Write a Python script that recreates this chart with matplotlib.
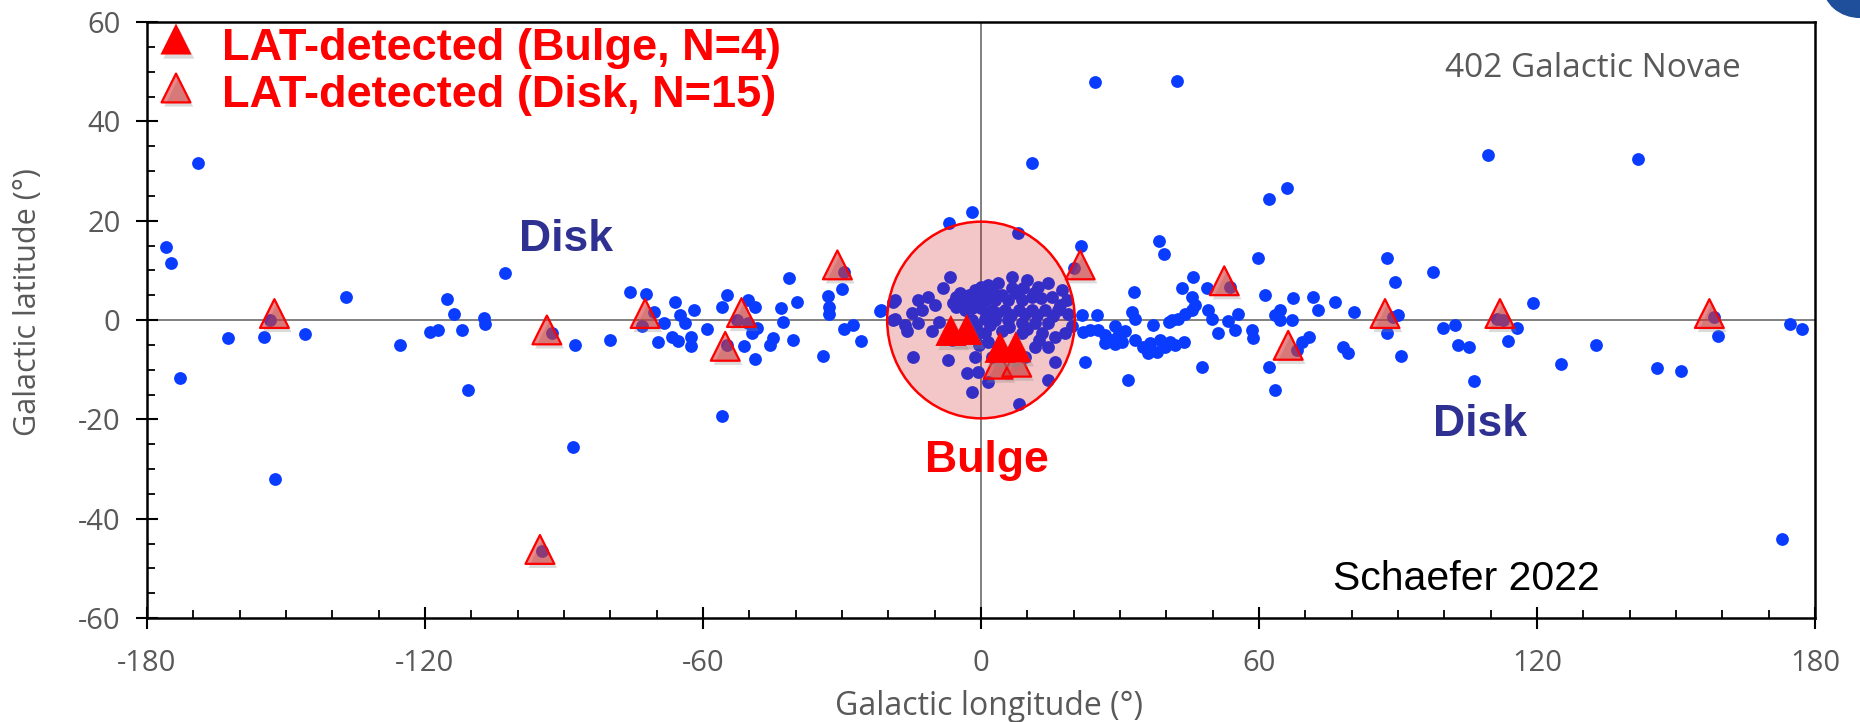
import matplotlib
matplotlib.use('Agg')
import matplotlib.pyplot as plt
import matplotlib.patheffects as pe
from matplotlib.patches import Ellipse
from matplotlib.ticker import MultipleLocator

plt.rcParams['axes.unicode_minus'] = False

# galactic novae (lon, lat in degrees)
nova_lon = [
    -175.8, -174.8, -172.8, -162.6, -154.8, -153.4, -146.0, -137.1, -125.5, -118.9, -117.3,
    -115.3, -113.8, -112.0, -107.3, -107.0, -110.7, -102.7, -92.6, -87.6, -80.0, -75.8,
    -72.3, -70.6, -73.2, -68.5, -69.8, -66.0, -64.9, -63.8, -62.0, -66.7, -65.3, -62.6,
    -62.6, -59.1, -55.9, -54.8, -55.9,
    -54.9, -50.2, -48.8, -52.7, -50.2, -48.4, -49.5, -51.2, -48.8, -45.5, -44.8, -43.2,
    -42.7, -41.4, -39.8, -40.5, -34.0, -29.6, -30.1, -33.0, -32.7, -32.7, -29.6, -27.6,
    -26.0, -21.8, -18.9, -18.9,
    # bulge
    -6.7, -8.1, -18.6, -13.5, -11.4, -12.8, -9.9, -5.3, -3.5, -1.3, 0.1, 1.6, 3.7, 6.6,
    6.6, 9.9, 12.4, 14.5, 17.4, 18.5, 15.3, 10.9, 8.8, 5.9, 3.0, 0.9, -1.3, -3.5, -5.3,
    2.3, 5.2, 8.1, 10.9, 13.8, 16.7, 18.8, 14.5, 11.7, 8.8, 5.9, 3.0, 0.9, -2.0, -16.4,
    -13.5, -10.6, -16.0, -18.6, -6.3, -1.3, 0.9, 4.5, 8.8, 13.1, 16.0, 18.1, 19.6, 11.7,
    14.5, -14.6, -7.1, -1.3, 2.3, 5.9, 9.5, 16.0, -3.1, -0.6, 1.6, 14.5, -2.0, 8.1,
    -4.5, -2.5, -0.5, 1.0, 2.5, 4.5, 7.5, 9.0, 11.5, 13.0, -6.0, -4.0, -2.0, 0.0, 1.5,
    3.5, 6.5, 9.5, 12.0, 15.5, 17.0, -1.0, 2.0, 6.0, 10.0, -0.5, 1.5, 12.5, -9.0, -15.0,
    -2.0, -7.0, 7.9, 21.6, 20.1, -21.6, 21.7, 22.1, 22.4,
    # positive longitudes
    38.4, 39.4, 33.0, 25.0, 25.3, 26.8, 26.8, 28.9, 29.6, 31.1, 30.4, 32.5, 33.2, 33.2,
    31.8, 37.2, 36.5, 36.1, 38.6, 39.7, 40.8, 37.9, 41.2, 42.6, 44.0, 45.5, 46.2, 45.5,
    43.3, 45.8, 43.9, 47.8, 48.7, 49.1, 49.8, 51.2, 53.7, 53.4, 54.8, 55.5, 58.4, 58.8,
    59.7, 61.3, 63.5, 64.5, 64.5, 67.1, 67.4, 68.1, 69.2, 70.8, 62.2, 63.5, 71.7, 72.8,
    76.4, 78.2, 79.3, 80.4, 87.6, 89.4, 89.0, 87.6, 90.1, 90.6,
    23.5, 28.0, 29.0, 35.0, 41.8, 40.5,
    97.5, 99.8, 102.3, 103.0, 105.4, 106.3, 111.3, 112.7, 115.6, 113.8, 119.1, 125.2,
    132.7, 145.8, 151.1, 158.1, 159.1, 174.5, 177.1,
    # high latitude
    -169.0, -152.4, -88.1, -94.8, 24.5, 42.2, 11.0, 109.4, 141.8, 66.0, 62.2, 172.8,
]
nova_lat = [
    14.6, 11.4, -11.7, -3.7, -3.5, 0.0, -2.8, 4.6, -5.0, -2.4, -2.0,
    4.2, 1.3, -2.1, 0.5, -0.9, -14.0, 9.5, -2.6, -5.0, -4.0, 5.7,
    5.2, 1.7, -1.3, -0.7, -4.4, 3.7, 1.0, -0.7, 2.0, -3.5, -4.2, -3.4,
    -5.2, -1.9, 2.6, 5.0, -19.3,
    -5.0, 4.0, 2.7, 0.0, -0.7, -1.7, -2.7, -5.2, -7.9, -5.0, -3.7, 2.4,
    -0.5, 8.5, 3.7, -4.0, -7.3, 9.7, 6.2, 4.8, 2.7, 1.3, -1.9, -1.0,
    -4.2, 1.9, 3.7, 0.0,
    8.7, 6.4, 4.0, 4.0, 4.7, 2.0, 3.0, 4.7, 4.0, 6.0, 6.7, 7.0, 7.4, 8.7,
    6.4, 8.1, 6.7, 7.4, 6.0, 4.0, 4.7, 4.7, 4.0, 4.0, 4.0, 4.0, 3.4, 2.0, 2.7,
    2.0, 2.0, 2.0, 2.0, 2.0, 2.0, 1.3, -0.7, -0.7, -0.7, 0.0, 0.0, 0.3, 0.0, -1.0,
    -0.7, -2.3, -2.3, 0.3, -4.0, -3.4, -2.7, -2.3, -2.7, -2.7, -3.4, -2.7, -1.3, -5.4,
    -5.4, -7.4, -8.1, -7.4, -7.4, -6.7, -7.4, -8.4, -10.7, -10.4, -12.4, -12.1, -14.4, -16.9,
    5.5, 5.0, 5.2, 5.8, 5.5, 5.0, 5.5, 6.5, 5.5, 4.5, 3.5, 3.0, 2.5, 2.5, 1.2,
    1.5, 1.0, 1.2, 1.0, 0.8, 3.0, -1.2, -1.0, -1.5, -1.8, -5.0, -4.5, -4.0, -0.5, 1.5,
    21.8, 19.5, 17.5, 14.8, 10.4, 2.0, 1.0, -2.4, -8.4,
    16.0, 13.3, 5.7, 1.0, -2.0, -3.0, -4.7, -1.3, -3.3, -2.3, -4.4, 1.7, 0.3, -4.0,
    -12.0, -1.0, -4.7, -6.7, -4.0, -5.4, -4.4, -6.4, 0.0, 0.3, 1.3, 2.0, 3.0, 4.7,
    6.4, 8.7, -4.4, -9.4, 6.4, 2.0, 0.3, -2.7, 6.7, -0.3, -2.0, 1.3, -2.0, -3.7,
    12.4, 5.0, 1.0, 2.0, 0.0, 0.1, 4.4, -6.0, -4.4, -3.4, -9.4, -14.1, 4.7, 2.0,
    3.7, -5.4, -6.7, 1.7, 12.4, 7.7, 0.7, -2.7, 1.0, -7.2,
    -2.0, -4.0, -4.8, -5.5, -5.0, -0.5,
    9.7, -1.7, -1.0, -5.0, -5.4, -12.3, 0.3, 0.0, -1.7, -4.2, 3.5, -8.9,
    -5.0, -9.6, -10.3, 0.7, -3.3, -0.8, -1.9,
    31.7, -32.1, -25.6, -46.5, 48.0, 48.2, 31.7, 33.2, 32.5, 26.5, 24.3, -44.0,
]

# LAT-detected novae
bulge_lon = [-6.5, -3.1, 4.1, 7.5]
bulge_lat = [-2.1, -1.9, -5.5, -5.4]
disk_lon = [-152.5, -93.7, -95.2, -72.5, -55.2, -51.7, -31.0, 3.7, 7.7, 21.4, 52.5, 66.3, 87.2, 112.0, 157.2]
disk_lat = [1.3, -2.0, -46.2, 1.3, -5.3, 1.5, 11.1, -8.9, -8.5, 11.1, 7.9, -5.1, 1.3, 1.3, 1.3]

x_ticks = [-180, -120, -60, 0, 60, 120, 180]
y_ticks = [-60, -40, -20, 0, 20, 40, 60]

gray = '#595959'
blue = '#0a3cff'
navy = '#2e3192'
tick_font = 'Open Sans'
bold_font = 'Liberation Sans'

fig = plt.figure(figsize=(18.6, 7.22), dpi=100)
ax = fig.add_axes([147 / 1860, 104 / 722, 1668 / 1860, 596 / 722])

ax.axhline(0, color='#808080', lw=1.4, zorder=1)
ax.axvline(0, color='#808080', lw=1.4, zorder=1)

ax.scatter(nova_lon, nova_lat, s=85, color=blue, linewidths=0, zorder=2)

ax.add_patch(Ellipse((0, 0), 40.5, 39.6, facecolor=(0.8, 0, 0, 0.22),
                     edgecolor='#ff0000', lw=1.8, zorder=3))

shadow = [pe.SimplePatchShadow(offset=(2, -3), shadow_rgbFace='#888888', alpha=0.3), pe.Normal()]
ax.scatter(disk_lon, disk_lat, marker='^', s=430, facecolor=(0.83, 0.16, 0.16, 0.55),
           edgecolor='#ff0000', linewidths=1.6, zorder=4, path_effects=shadow)
ax.scatter(bulge_lon, bulge_lat, marker='^', s=500, color='#ff0000', linewidths=0,
           zorder=5, path_effects=shadow)

ax.set_xlim(-180, 180)
ax.set_ylim(-60, 60)
ax.set_xticks(x_ticks)
ax.set_yticks(y_ticks)
ax.xaxis.set_minor_locator(MultipleLocator(10))
ax.yaxis.set_minor_locator(MultipleLocator(5))
ax.tick_params(which='major', direction='inout', length=16, width=1.5, color='black',
               labelcolor=gray, labelsize=21)
ax.tick_params(axis='x', which='major', pad=14)
ax.tick_params(axis='y', which='major', pad=11)
ax.tick_params(which='minor', direction='in', length=6, width=1.3, color='black')
for lab in ax.get_xticklabels() + ax.get_yticklabels():
    lab.set_family(tick_font)
for sp in ax.spines.values():
    sp.set_linewidth(1.8)
    sp.set_color('black')

ax.set_xlabel('Galactic longitude (°)', fontsize=23, color=gray, family=tick_font)
ax.set_ylabel('Galactic latitude (°)', fontsize=22, color=gray, family=tick_font)
ax.xaxis.set_label_coords(0.505, -0.149)
ax.xaxis.label.set_va('center')
ax.yaxis.set_label_coords(-0.0713, 0.53)
ax.yaxis.label.set_va('center')

ax.text(0.9552, 0.9077, '402 Galactic Novae', transform=ax.transAxes, ha='right',
        va='baseline', fontsize=24, color=gray, family=tick_font)
ax.text(0.711, 0.047, 'Schaefer 2022', transform=ax.transAxes, ha='left',
        va='baseline', fontsize=29.5, color='black', family=bold_font)

ax.text(-89.6, 13.9, 'Disk', ha='center', va='baseline', fontsize=32,
        fontweight='bold', color=navy, family=bold_font)
ax.text(107.7, -23.4, 'Disk', ha='center', va='baseline', fontsize=32,
        fontweight='bold', color=navy, family=bold_font)
ax.text(1.3, -30.6, 'Bulge', ha='center', va='baseline', fontsize=32,
        fontweight='bold', color='#ff0000', family=bold_font)

# hand-placed legend
ax.scatter([176 / 1860], [1 - 39 / 722], transform=fig.transFigure, marker='^', s=500,
           color='#ff0000', linewidths=0, clip_on=False, zorder=6, path_effects=shadow)
ax.scatter([176 / 1860], [1 - 88 / 722], transform=fig.transFigure, marker='^', s=430,
           facecolor=(0.83, 0.16, 0.16, 0.55), edgecolor='#ff0000', linewidths=1.6,
           clip_on=False, zorder=6, path_effects=shadow)
fig.text(222 / 1860, 1 - 60 / 722, 'LAT-detected (Bulge, N=4)', fontsize=32.5,
         fontweight='bold', color='#ff0000', family=bold_font, va='baseline')
fig.text(222 / 1860, 1 - 107 / 722, 'LAT-detected (Disk, N=15)', fontsize=32.5,
         fontweight='bold', color='#ff0000', family=bold_font, va='baseline')

# bit of a logo cut off in the top-right corner
fig.patches.append(Ellipse((1.0, 1.02), 0.04, 0.09, transform=fig.transFigure,
                           facecolor='#1f4f9a', edgecolor='none'))

fig.savefig('out.png', dpi=100)
